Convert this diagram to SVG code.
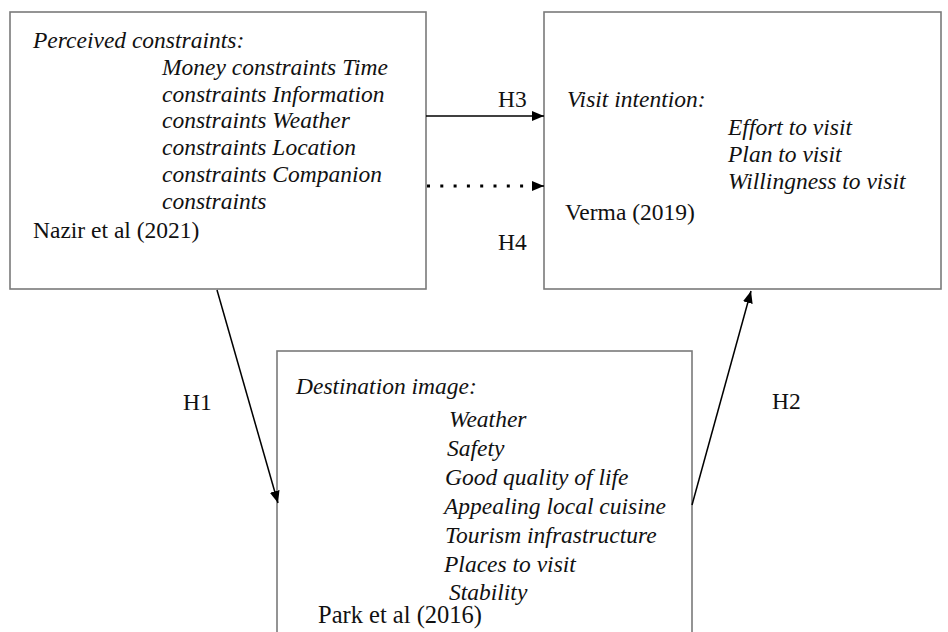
<svg xmlns="http://www.w3.org/2000/svg" width="948" height="632" viewBox="0 0 948 632">
<defs>
<marker id="ah" markerUnits="userSpaceOnUse" markerWidth="13" markerHeight="11" refX="12" refY="5" orient="auto">
<path d="M0,0 L12,5 L0,10 z" fill="#000"/>
</marker>
<style>
.box{fill:#fff;stroke:#7a7a7a;stroke-width:1.6}
.t{font-family:'Liberation Serif','Times New Roman',Times,'DejaVu Serif',serif;font-size:23.5px;fill:#111}
.i{font-style:italic}
.c{stroke:#000;stroke-width:1.5;fill:none}
</style>
</defs>
<rect width="948" height="632" fill="#fff"/>
<g id="perceived-constraints" font-family="Liberation Serif, serif">
<rect class="box" x="10" y="12" width="416" height="277"/>
<text class="t i" x="33" y="48">Perceived constraints:</text>
<text class="t i" x="162" y="75">Money constraints Time</text>
<text class="t i" x="162" y="101.7">constraints Information</text>
<text class="t i" x="162" y="128.4">constraints Weather</text>
<text class="t i" x="162" y="155.1">constraints Location</text>
<text class="t i" x="162" y="181.8">constraints Companion</text>
<text class="t i" x="162" y="208.5">constraints</text>
<text class="t" x="33" y="238">Nazir et al (2021)</text>
</g>
<g id="visit-intention" font-family="Liberation Serif, serif">
<rect class="box" x="544" y="12" width="397" height="277"/>
<text class="t i" x="567" y="107">Visit intention:</text>
<text class="t i" x="728" y="135">Effort to visit</text>
<text class="t i" x="728" y="162">Plan to visit</text>
<text class="t i" x="728" y="189">Willingness to visit</text>
<text class="t" x="565" y="220">Verma (2019)</text>
</g>
<g id="destination-image" font-family="Liberation Serif, serif">
<rect class="box" x="277" y="351" width="415" height="290"/>
<text class="t i" x="296" y="394">Destination image:</text>
<text class="t i" x="449" y="427">Weather</text>
<text class="t i" x="447" y="456">Safety</text>
<text class="t i" x="445" y="485">Good quality of life</text>
<text class="t i" x="444" y="514">Appealing local cuisine</text>
<text class="t i" x="445" y="543">Tourism infrastructure</text>
<text class="t i" x="444" y="572">Places to visit</text>
<text class="t i" x="449" y="600">Stability</text>
<text class="t" x="318" y="623" style="font-size:24.5px">Park et al (2016)</text>
</g>
<g id="connectors" font-family="Liberation Serif, serif">
<line class="c" x1="426" y1="116" x2="544" y2="116" marker-end="url(#ah)"/>
<line x1="427" y1="186" x2="530" y2="186" stroke="#000" stroke-width="3" stroke-dasharray="3 10.3"/>
<line class="c" x1="532" y1="186" x2="544" y2="186" stroke-width="0" marker-end="url(#ah)"/>
<line class="c" x1="217" y1="290" x2="278" y2="503" marker-end="url(#ah)"/>
<line class="c" x1="692" y1="505" x2="751" y2="291" marker-end="url(#ah)"/>
<text class="t" x="498" y="107">H3</text>
<text class="t" x="498" y="250">H4</text>
<text class="t" x="183" y="410">H1</text>
<text class="t" x="772" y="409">H2</text>
</g>
</svg>
